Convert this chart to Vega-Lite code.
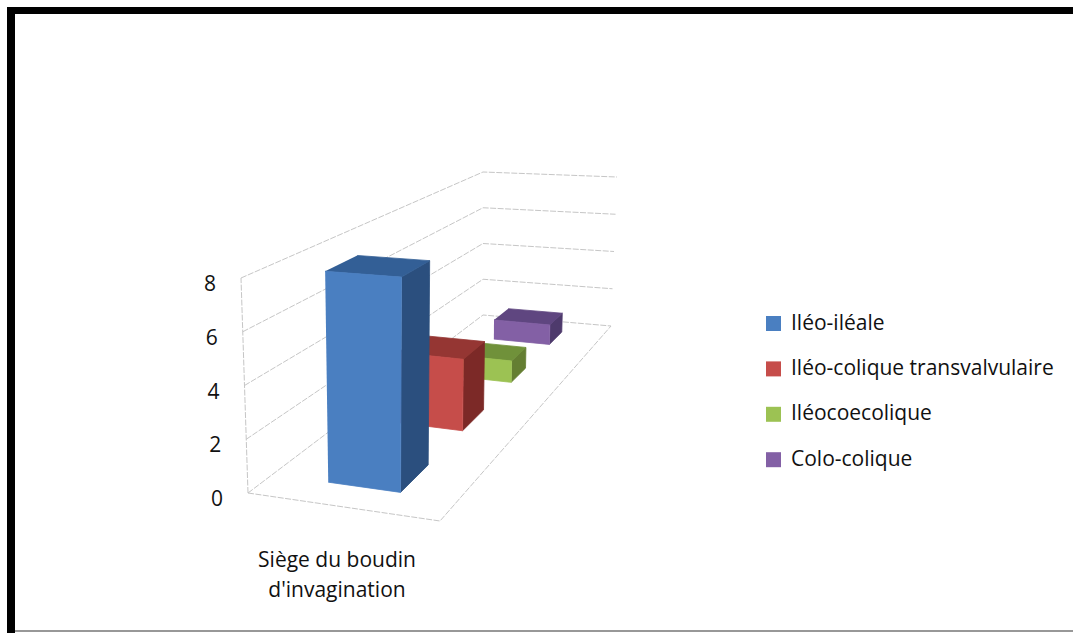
{
  "$schema": "https://vega.github.io/schema/vega-lite/v6.json",
  "width": 1073,
  "height": 633,
  "padding": 0,
  "autosize": {"type": "none"},
  "background": "white",
  "config": {"view": {"stroke": null}},
  "datasets": {
    "sieges": [
      {"serie": "Colo-colique", "valeur": 1},
      {"serie": "Iléocoecolique", "valeur": 1},
      {"serie": "Iléo-colique transvalvulaire", "valeur": 3},
      {"serie": "Iléo-iléale", "valeur": 8}
    ],
    "graduations": [{"niveau": 0}, {"niveau": 2}, {"niveau": 4}, {"niveau": 6}, {"niveau": 8}]
  },
  "layer": [
    {
      "description": "Cadre noir, haut",
      "data": {"values": [{"cadre": "haut"}]},
      "mark": {"type": "rule", "color": "black", "strokeWidth": 7},
      "encoding": {
        "x": {"datum": 7, "type": "quantitative", "scale": {"domain": [0, 1073], "nice": false, "zero": false}, "axis": null},
        "x2": {"datum": 1073},
        "y": {"datum": 10.5, "type": "quantitative", "scale": {"domain": [633, 0], "nice": false, "zero": false}, "axis": null}
      }
    },
    {
      "description": "Cadre noir, gauche",
      "data": {"values": [{"cadre": "gauche"}]},
      "mark": {"type": "rule", "color": "black", "strokeWidth": 8},
      "encoding": {
        "x": {"datum": 11, "type": "quantitative", "axis": null},
        "y": {"datum": 7, "type": "quantitative", "axis": null},
        "y2": {"datum": 633}
      }
    },
    {
      "description": "Cadre, filet du bas",
      "data": {"values": [{"cadre": "bas"}]},
      "mark": {"type": "rule", "color": "#333333", "strokeWidth": 1.2},
      "encoding": {
        "x": {"datum": 15, "type": "quantitative", "axis": null},
        "x2": {"datum": 1073},
        "y": {"datum": 631, "type": "quantitative", "axis": null}
      }
    },
    {
      "description": "Lignes de graduation sur les parois",
      "data": {"name": "graduations"},
      "transform": [
        {"calculate": "[{i:0,u:0,s:0},{i:1,u:0,s:1},{i:2,u:1,s:1}]", "as": "v"},
        {"flatten": ["v"]},
        {"calculate": "datum.v.u", "as": "u"},
        {"calculate": "datum.v.s", "as": "s"},
        {"calculate": "datum.v.i", "as": "i"},
        {"calculate": "datum.niveau", "as": "h"},
        {"calculate": "(1-datum.s)*((1-datum.u)*248+datum.u*440)+datum.s*((1-datum.u)*483+datum.u*611)+datum.h/8*((1-datum.s)*((1-datum.u)*-7+datum.u*4)+datum.s*datum.u*6)", "as": "px"},
        {"calculate": "(1-datum.s)*((1-datum.u)*493+datum.u*521)+datum.s*((1-datum.u)*315+datum.u*326)-datum.h/8*((1-datum.s)*((1-datum.u)*215+datum.u*227)+datum.s*((1-datum.u)*143+datum.u*149))", "as": "py"}
      ],
      "mark": {"type": "line", "color": "#c6c6c6", "strokeWidth": 1, "strokeDash": [6, 1.5]},
      "encoding": {
        "x": {"field": "px", "type": "quantitative", "axis": null},
        "y": {"field": "py", "type": "quantitative", "axis": null},
        "detail": {"field": "niveau"},
        "order": {"field": "i"}
      }
    },
    {
      "description": "Bords avant et droit du plancher",
      "data": {"name": "graduations"},
      "transform": [
        {"filter": "datum.niveau === 0"},
        {"calculate": "[{i:0,u:0,s:0},{i:1,u:1,s:0},{i:2,u:1,s:1}]", "as": "v"},
        {"flatten": ["v"]},
        {"calculate": "datum.v.u", "as": "u"},
        {"calculate": "datum.v.s", "as": "s"},
        {"calculate": "datum.v.i", "as": "i"},
        {"calculate": "(1-datum.s)*((1-datum.u)*248+datum.u*440)+datum.s*((1-datum.u)*483+datum.u*611)", "as": "px"},
        {"calculate": "(1-datum.s)*((1-datum.u)*493+datum.u*521)+datum.s*((1-datum.u)*315+datum.u*326)", "as": "py"}
      ],
      "mark": {"type": "line", "color": "#c6c6c6", "strokeWidth": 1, "strokeDash": [6, 1.5]},
      "encoding": {
        "x": {"field": "px", "type": "quantitative", "axis": null},
        "y": {"field": "py", "type": "quantitative", "axis": null},
        "order": {"field": "i"}
      }
    },
    {
      "description": "Arête verticale de l'axe des valeurs",
      "data": {"name": "graduations"},
      "transform": [
        {"filter": "datum.niveau === 0 || datum.niveau === 8"},
        {"calculate": "248-7*datum.niveau/8", "as": "px"},
        {"calculate": "493-215*datum.niveau/8", "as": "py"}
      ],
      "mark": {"type": "line", "color": "#c6c6c6", "strokeWidth": 1, "strokeDash": [6, 1.5]},
      "encoding": {
        "x": {"field": "px", "type": "quantitative", "axis": null},
        "y": {"field": "py", "type": "quantitative", "axis": null},
        "order": {"field": "niveau"}
      }
    },
    {
      "description": "Libellés de l'axe des valeurs",
      "data": {"name": "graduations"},
      "transform": [
        {"calculate": "248-7*datum.niveau/8", "as": "px"},
        {"calculate": "493-215*datum.niveau/8", "as": "py"}
      ],
      "mark": {"type": "text", "font": "Open Sans", "fontSize": 21, "color": "#111111", "align": "center", "baseline": "middle", "dx": -31, "dy": 7},
      "encoding": {
        "x": {"field": "px", "type": "quantitative", "axis": null},
        "y": {"field": "py", "type": "quantitative", "axis": null},
        "text": {"field": "niveau", "type": "quantitative"}
      }
    },
    {
      "description": "Barres en perspective : face latérale, dessus et face avant, de la plus éloignée à la plus proche",
      "data": {"name": "sieges"},
      "transform": [
        {"calculate": "{'Iléo-iléale':0.105,'Iléo-colique transvalvulaire':0.43,'Iléocoecolique':0.685,'Colo-colique':0.885}[datum.serie]", "as": "s0"},
        {"calculate": "{'Iléo-iléale':0.25,'Iléo-colique transvalvulaire':0.54,'Iléocoecolique':0.76,'Colo-colique':0.95}[datum.serie]", "as": "s1"},
        {"calculate": "datum.serie === 'Colo-colique' ? 0.28 : 0.3", "as": "u0"},
        {"calculate": "0.69", "as": "u1"},
        {"calculate": "[{f:' côté',i:0,a:1,b:0,c:0},{f:' côté',i:1,a:1,b:1,c:0},{f:' côté',i:2,a:1,b:1,c:1},{f:' côté',i:3,a:1,b:0,c:1},{f:' dessus',i:0,a:0,b:0,c:1},{f:' dessus',i:1,a:1,b:0,c:1},{f:' dessus',i:2,a:1,b:1,c:1},{f:' dessus',i:3,a:0,b:1,c:1},{f:'',i:0,a:0,b:0,c:0},{f:'',i:1,a:1,b:0,c:0},{f:'',i:2,a:1,b:0,c:1},{f:'',i:3,a:0,b:0,c:1}]", "as": "v"},
        {"flatten": ["v"]},
        {"calculate": "datum.serie + datum.v.f", "as": "face"},
        {"calculate": "datum.v.i", "as": "i"},
        {"calculate": "datum.v.a ? datum.u1 : datum.u0", "as": "u"},
        {"calculate": "datum.v.b ? datum.s1 : datum.s0", "as": "s"},
        {"calculate": "datum.v.c * datum.valeur", "as": "h"},
        {"calculate": "(1-datum.s)*((1-datum.u)*248+datum.u*440)+datum.s*((1-datum.u)*483+datum.u*611)+datum.h/8*((1-datum.s)*((1-datum.u)*-7+datum.u*4)+datum.s*datum.u*6)", "as": "px"},
        {"calculate": "(1-datum.s)*((1-datum.u)*493+datum.u*521)+datum.s*((1-datum.u)*315+datum.u*326)-datum.h/8*((1-datum.s)*((1-datum.u)*215+datum.u*227)+datum.s*((1-datum.u)*143+datum.u*149))", "as": "py"}
      ],
      "mark": {"type": "line", "strokeWidth": 0.8},
      "encoding": {
        "x": {"field": "px", "type": "quantitative", "axis": null},
        "y": {"field": "py", "type": "quantitative", "axis": null},
        "order": {"field": "i"},
        "stroke": {
          "field": "face",
          "type": "nominal",
          "sort": null,
          "scale": {
            "domain": [
              "Iléo-iléale", "Iléo-colique transvalvulaire", "Iléocoecolique", "Colo-colique",
              "Iléo-iléale côté", "Iléo-colique transvalvulaire côté", "Iléocoecolique côté", "Colo-colique côté",
              "Iléo-iléale dessus", "Iléo-colique transvalvulaire dessus", "Iléocoecolique dessus", "Colo-colique dessus"
            ],
            "range": [
              "#4a7fc1", "#c64d4a", "#9cc253", "#8360a5",
              "#2b4f7e", "#7c2927", "#647e32", "#4e3a6c",
              "#335f96", "#953633", "#70913a", "#5f4680"
            ]
          },
          "legend": null
        },
        "fill": {
          "field": "face",
          "type": "nominal",
          "sort": null,
          "scale": {
            "domain": [
              "Iléo-iléale", "Iléo-colique transvalvulaire", "Iléocoecolique", "Colo-colique",
              "Iléo-iléale côté", "Iléo-colique transvalvulaire côté", "Iléocoecolique côté", "Colo-colique côté",
              "Iléo-iléale dessus", "Iléo-colique transvalvulaire dessus", "Iléocoecolique dessus", "Colo-colique dessus"
            ],
            "range": [
              "#4a7fc1", "#c64d4a", "#9cc253", "#8360a5",
              "#2b4f7e", "#7c2927", "#647e32", "#4e3a6c",
              "#335f96", "#953633", "#70913a", "#5f4680"
            ]
          },
          "legend": {
            "values": ["Iléo-iléale", "Iléo-colique transvalvulaire", "Iléocoecolique", "Colo-colique"],
            "title": null,
            "orient": "none",
            "legendX": 763,
            "legendY": 313,
            "padding": 0,
            "symbolType": "square",
            "symbolSize": 225,
            "symbolStrokeWidth": 0,
            "labelFont": "Open Sans",
            "labelFontSize": 21,
            "labelColor": "#111111",
            "labelOffset": 7,
            "labelLimit": 400,
            "rowPadding": 23.4
          }
        }
      }
    },
    {
      "description": "Libellé de la catégorie",
      "data": {"values": [{"categorie": "Siège du boudin\nd'invagination"}]},
      "mark": {"type": "text", "font": "Open Sans", "fontSize": 21, "color": "#111111", "align": "center", "baseline": "middle", "lineBreak": "\n", "lineHeight": 30},
      "encoding": {
        "x": {"datum": 337, "type": "quantitative", "axis": null},
        "y": {"datum": 561, "type": "quantitative", "axis": null},
        "text": {"field": "categorie", "type": "nominal"}
      }
    }
  ]
}
